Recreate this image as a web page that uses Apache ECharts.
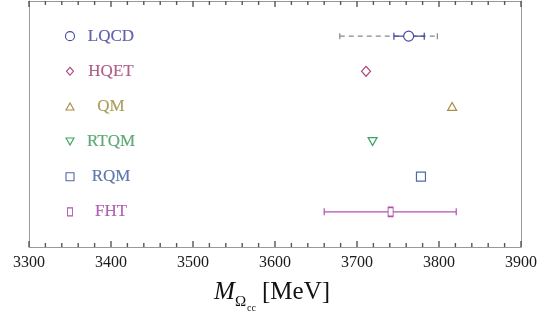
<!DOCTYPE html>
<html><head><meta charset="utf-8">
<script src="https://cdn.jsdelivr.net/npm/echarts@6/dist/echarts.min.js"></script>
<style>html,body{margin:0;padding:0;background:#fff}#c{width:540px;height:312px}</style>
</head><body><div id="c"></div>
<script>
// ---- data ----
const methods = ['LQCD', 'HQET', 'QM', 'RTQM', 'RQM', 'FHT'];
const masses = [3763, 3711, 3816, 3719, 3778, 3741];
const rows = [6, 5, 4, 3, 2, 1];
const lqcdStat = [3745, 3782];
const lqcdSys = [3679, 3798];
const fhtErr = [3660, 3821];
const legendMarkerX = 3350;
const legendLabelX = 3400;
const xTicks = [3300, 3400, 3500, 3600, 3700, 3800, 3900];
const minorStep = 20;

// ---- styles ----
const styles = [
  {sym: 'circle', size: 10, lsize: 9, rot: 0, color: '#4848a4', text: '#3a3a94'},
  {sym: 'diamond', size: [9, 10], lsize: [7, 8], rot: 0, color: '#b04880', text: '#9c3a6c'},
  {sym: 'triangle', size: [9, 8], lsize: [8, 7], rot: 0, color: '#a89048', text: '#968636'},
  {sym: 'triangle', size: [9, 8], lsize: [8, 7], rot: 180, color: '#40a060', text: '#369452'},
  {sym: 'rect', size: 9, lsize: 8, rot: 0, color: '#5068a8', text: '#385698'},
  {sym: 'rect', size: [5, 9], lsize: [5, 8], rot: 0, color: '#b050b0', text: '#9c3c9c'}
];
const serif = "'Liberation Serif','DejaVu Serif',serif";
const yMin = 0, yMax = 7;

function errSeries(name, lo, hi, row, color, dashed, capLen) {
  return {
    type: 'custom', name: name, z: 3,
    data: [[lo, hi, row]],
    renderItem: function (params, api) {
      const p1 = api.coord([api.value(0), api.value(2)]);
      const p2 = api.coord([api.value(1), api.value(2)]);
      const st = {stroke: color, lineWidth: 1.2, lineDash: dashed ? [5, 4] : null};
      const cst = {stroke: color, lineWidth: 1.2};
      return {type: 'group', children: [
        {type: 'line', shape: {x1: p1[0], y1: p1[1], x2: p2[0], y2: p2[1]}, style: st},
        {type: 'line', shape: {x1: p1[0], y1: p1[1] - capLen, x2: p1[0], y2: p1[1] + capLen}, style: cst},
        {type: 'line', shape: {x1: p2[0], y1: p2[1] - capLen, x2: p2[0], y2: p2[1] + capLen}, style: cst}
      ]};
    }
  };
}

// tick marks (inward) on bottom and top frame: [value, length, anchor]
const tickData = [];
for (let i = 0; i < xTicks.length; i++) {
  tickData.push([xTicks[i], 6, 3.5]);
  if (i < xTicks.length - 1) {
    for (let v = xTicks[i] + minorStep; v < xTicks[i + 1]; v += minorStep) tickData.push([v, 4, 3.5]);
  }
}

const series = [];
series.push({
  type: 'custom', name: 'ticks', z: 10, silent: true,
  encode: {x: 0, y: 2},
  data: tickData,
  renderItem: function (params, api) {
    const b = api.coord([api.value(0), yMin]);
    const t = api.coord([api.value(0), yMax]);
    const len = api.value(1);
    const x = b[0];
    const st = {stroke: '#555', lineWidth: 1.4};
    return {type: 'group', children: [
      {type: 'line', shape: {x1: x, y1: b[1], x2: x, y2: b[1] - len}, style: st},
      {type: 'line', shape: {x1: x, y1: t[1], x2: x, y2: t[1] + len}, style: st}
    ]};
  }
});
series.push(errSeries('lqcdSys', lqcdSys[0], lqcdSys[1], rows[0], '#888', true, 3));
series.push(errSeries('lqcdStat', lqcdStat[0], lqcdStat[1], rows[0], '#4040a0', false, 3.5));
series.push(errSeries('fhtErr', fhtErr[0], fhtErr[1], rows[5], '#b050b0', false, 3.5));

methods.forEach(function (m, i) {
  const s = styles[i];
  series.push({
    type: 'scatter', name: m, z: 5, silent: true,
    symbol: s.sym, symbolSize: s.size, symbolRotate: s.rot,
    itemStyle: {color: '#fff', borderColor: s.color, borderWidth: 1.2, opacity: 1},
    data: [[masses[i], rows[i]]]
  });
  series.push({
    type: 'scatter', name: m + '_legend', z: 5, silent: true,
    symbol: s.sym, symbolSize: s.lsize, symbolRotate: s.rot,
    itemStyle: {color: '#fff', borderColor: s.color, borderWidth: 1.1, opacity: 1},
    data: [[legendMarkerX, rows[i]]]
  });
  series.push({
    type: 'scatter', name: m + '_label', z: 5, silent: true,
    symbolSize: 0,
    label: {show: true, position: 'inside', formatter: m, fontFamily: serif, fontSize: 17, color: s.text,
            textBorderColor: s.text, textBorderWidth: 0.15},
    data: [[legendLabelX, rows[i]]]
  });
});

const frame = {show: true, onZero: false, lineStyle: {color: '#999', width: 1}};
const chart = echarts.init(document.getElementById('c'), null, {renderer: 'canvas'});
chart.setOption({
  animation: false,
  backgroundColor: '#fff',
  grid: {left: 29, right: 17, top: 1, bottom: 65, containLabel: false},
  xAxis: [{
    type: 'value', min: xTicks[0], max: xTicks[xTicks.length - 1], interval: 100, position: 'bottom',
    axisLine: frame, axisTick: {show: false}, minorTick: {show: false},
    splitLine: {show: false},
    axisLabel: {fontFamily: serif, fontSize: 16, color: '#1a1a1a', margin: 8, formatter: function (v) { return String(v); }}
  }, {
    type: 'value', min: xTicks[0], max: xTicks[xTicks.length - 1], interval: 100, position: 'top',
    axisLine: frame, axisTick: {show: false}, minorTick: {show: false},
    splitLine: {show: false}, axisLabel: {show: false}
  }],
  yAxis: [{
    type: 'value', min: yMin, max: yMax, position: 'left',
    axisLine: frame, axisTick: {show: false}, splitLine: {show: false}, axisLabel: {show: false}
  }, {
    type: 'value', min: yMin, max: yMax, position: 'right',
    axisLine: frame, axisTick: {show: false}, splitLine: {show: false}, axisLabel: {show: false}
  }],
  graphic: [
    {type: 'text', left: 214, top: 280, style: {text: 'M', font: 'italic 25px ' + serif, fill: '#111'}},
    {type: 'text', left: 235, top: 295, style: {text: 'Ω', font: '15px ' + serif, fill: '#111'}},
    {type: 'text', left: 247, top: 303, style: {text: 'cc', font: '10px ' + serif, fill: '#111'}},
    {type: 'text', left: 262, top: 280, style: {text: '[MeV]', font: '25px ' + serif, fill: '#111'}}
  ],
  series: series
});
</script></body></html>
